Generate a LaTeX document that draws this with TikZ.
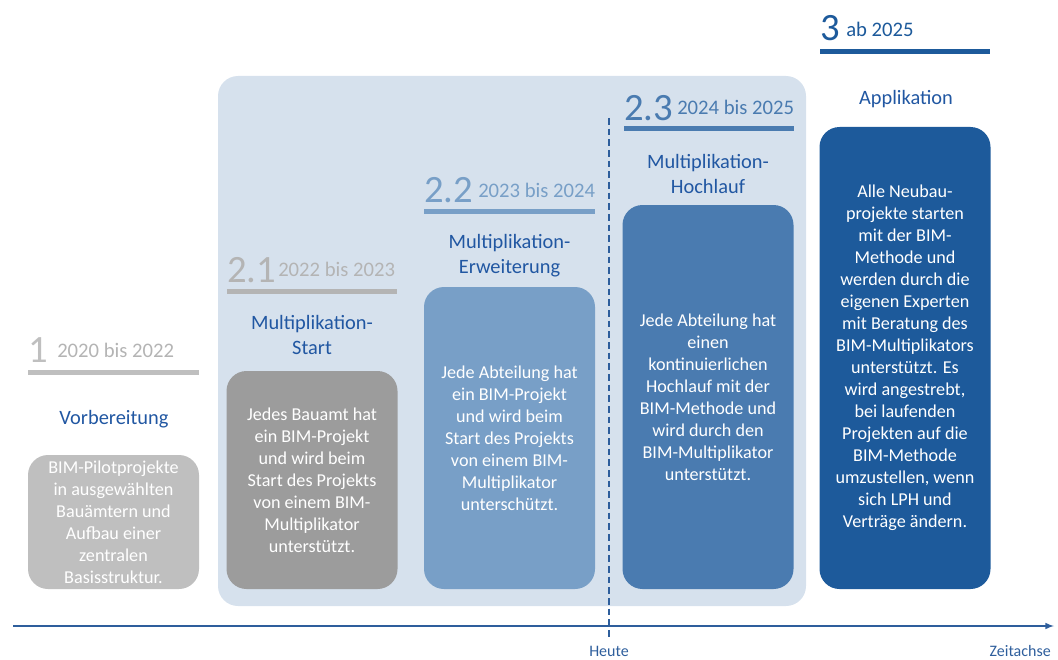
\documentclass[tikz,border=0pt]{standalone}
\usepackage{fontspec}
\setmainfont{Carlito}
\usetikzlibrary{positioning}

\definecolor{bgblue}{HTML}{D6E1ED}
\definecolor{grayA}{HTML}{BFBFBF}
\definecolor{grayB}{HTML}{9C9C9C}
\definecolor{grayC}{HTML}{B4B4B4}
\definecolor{blueA}{HTML}{789FC7}
\definecolor{blueB}{HTML}{4A7BB0}
\definecolor{blueC}{HTML}{1D5A9B}
\definecolor{titleblue}{HTML}{2157A2}
\definecolor{axisblue}{HTML}{2E5E9C}

\begin{document}
\begin{tikzpicture}[x=0.75pt, y=-0.75pt,
	phasebox/.style={rounded corners=15pt, minimum width=128.25pt, inner sep=0pt,
		text=white, align=center, font=\fontsize{13.6}{16.5}\selectfont},
	phasetitle/.style={align=center, inner sep=0pt, text=titleblue,
		font=\fontsize{15.3}{18.75}\selectfont},
	phasenum/.style={anchor=base west, inner sep=0pt, font=\fontsize{29}{30}\selectfont},
	phaseyear/.style={anchor=base west, inner sep=0pt, font=\fontsize{15.5}{18}\selectfont}]

	% frame of the picture
	\useasboundingbox (0,0) rectangle (1058,660);

	% style of the bars
	\tikzstyle{bar}=[line width=3.75pt]

	% background of phase 2
	\fill[bgblue, rounded corners=15pt] (218,76) rectangle (806,606);

	% phase 1
	\node[phasenum, text=grayA] (num1) at (28,362) {1};
	\node[phaseyear, text=grayC] (year1) at (57,357) {2020 bis 2022};
	\draw[bar, grayA] (28,372.5) -- (199,372.5);
	\node[phasetitle] (title1) at (114,419) {Vorbereitung};
	\node[phasebox, fill=grayA, minimum height=100.5pt] (box1) at (113.5,522)
		{BIM-Pilotprojekte\\in ausgewählten\\Bauämtern und\\Aufbau einer\\zentralen\\Basisstruktur.};

	% phase 2.1
	\node[phasenum, text=grayC] (num21) at (227,282) {2.1};
	\node[phaseyear, text=grayC] (year21) at (278,276) {2022 bis 2023};
	\draw[bar, grayC] (227,291) -- (397,291);
	\node[phasetitle] (title21) at (312,335) {Multiplikation-\\Start};
	\node[phasebox, fill=grayB, minimum height=163.5pt] (box21) at (312,480)
		{Jedes Bauamt hat\\ein BIM-Projekt\\und wird beim\\Start des Projekts\\von einem BIM-\\Multiplikator\\unterstützt.};

	% phase 2.2
	\node[phasenum, text=blueA] (num22) at (424,202) {2.2};
	\node[phaseyear, text=blueA] (year22) at (478,197) {2023 bis 2024};
	\draw[bar, blueA] (424,211) -- (595,211);
	\node[phasetitle] (title22) at (509.5,256) {Multiplikation-\\Erweiterung};
	\node[phasebox, fill=blueA, minimum height=226.5pt] (box22) at (509.5,438)
		{Jede Abteilung hat\\ein BIM-Projekt\\und wird beim\\Start des Projekts\\von einem BIM-\\Multiplikator\\unterschützt.};

	% phase 2.3
	\node[phasenum, text=blueB] (num23) at (624,121) {2.3};
	\node[phaseyear, text=blueB] (year23) at (677,115) {2024 bis 2025};
	\draw[bar, blueB] (624,129) -- (794,129);
	\node[phasetitle] (title23) at (708,174) {Multiplikation-\\Hochlauf};
	\node[phasebox, fill=blueB, minimum height=288pt] (box23) at (708,397)
		{Jede Abteilung hat\\einen\\kontinuierlichen\\Hochlauf mit der\\BIM-Methode und\\wird durch den\\BIM-Multiplikator\\unterstützt.};

	% phase 3
	\node[phasenum, text=blueC] (num3) at (820,41) {3};
	\node[phaseyear, text=blueC] (year3) at (846,37) {ab 2025};
	\draw[bar, blueC] (820,52) -- (990,52);
	\node[phasetitle] (title3) at (906,99) {Applikation};
	\node[phasebox, fill=blueC, minimum height=346.5pt] (box3) at (905,358)
		{Alle Neubau-\\projekte starten\\mit der BIM-\\Methode und\\werden durch die\\eigenen Experten\\mit Beratung des\\BIM-Multiplikators\\unterstützt. Es\\wird angestrebt,\\bei laufenden\\Projekten auf die\\BIM-Methode\\umzustellen, wenn\\sich LPH und\\Verträge ändern.};

	% time axis and today
	\coordinate (axisstart) at (13,626);
	\coordinate (axisend) at (1054,626);
	\coordinate (todaytop) at (609,118);
	\coordinate (todaybottom) at (609,637);
	\draw[axisblue, line width=1.2pt, -latex] (axisstart) -- (axisend);
	\draw[axisblue, line width=1.2pt, dash pattern=on 5pt off 3pt] (todaytop) -- (todaybottom);
	\node[text=axisblue, font=\fontsize{12}{14}\selectfont] (today) at (609,651) {Heute};
	\node[text=axisblue, font=\fontsize{12}{14}\selectfont, anchor=east, inner sep=0pt] (axislabel) at (1051,651) {Zeitachse};

\end{tikzpicture}
\end{document}
